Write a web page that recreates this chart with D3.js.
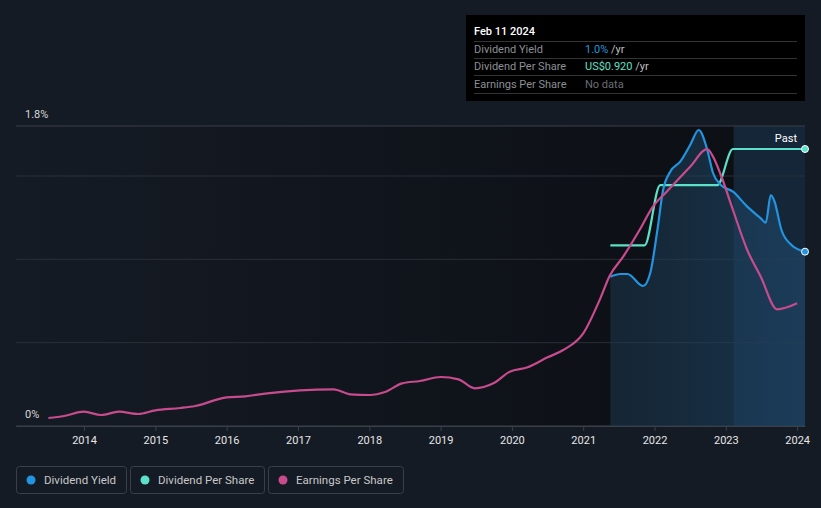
<!DOCTYPE html>
<html>
<head>
<meta charset="utf-8">
<script src="https://cdn.jsdelivr.net/npm/d3@7"></script>
<style>
  body { margin: 0; background: #151b25; font-family: Roboto, "Noto Sans", sans-serif; }
  svg { display: block; }
</style>
</head>
<body>
<div id="chart"></div>
<script>
// chart data (fractional years)
const epsYears = [2013.5, 2013.72, 2014.0, 2014.24, 2014.49, 2014.76, 2015.0, 2015.35, 2015.56, 2016.0, 2016.26, 2016.57, 2017.03, 2017.5, 2017.73, 2018.01, 2018.22, 2018.46, 2018.71, 2019.0, 2019.25, 2019.48, 2019.74, 2019.97, 2020.22, 2020.5, 2020.72, 2021.0, 2021.24, 2021.37, 2021.56, 2021.79, 2021.97, 2022.17, 2022.5, 2022.74, 2022.82, 2022.93, 2023.1, 2023.3, 2023.49, 2023.72, 2024.0];
const epsValues = [0.048, 0.06, 0.086, 0.066, 0.086, 0.072, 0.094, 0.108, 0.12, 0.172, 0.178, 0.196, 0.214, 0.22, 0.19, 0.186, 0.204, 0.256, 0.27, 0.294, 0.28, 0.226, 0.256, 0.326, 0.352, 0.412, 0.456, 0.556, 0.766, 0.9, 1.016, 1.176, 1.312, 1.406, 1.556, 1.662, 1.616, 1.506, 1.296, 1.056, 0.896, 0.7, 0.736];

const yieldYears = [2021.38, 2021.52, 2021.62, 2021.84, 2021.94, 2022.04, 2022.12, 2022.22, 2022.36, 2022.5, 2022.62, 2022.74, 2022.82, 2022.93, 2023.1, 2023.3, 2023.49, 2023.56, 2023.63, 2023.68, 2023.78, 2023.92, 2024.11];
const yieldValues = [0.896, 0.912, 0.912, 0.84, 0.918, 1.176, 1.416, 1.526, 1.586, 1.686, 1.776, 1.656, 1.518, 1.446, 1.406, 1.316, 1.246, 1.22, 1.386, 1.35, 1.176, 1.086, 1.046];

const dpsYears = [2021.38, 2021.86, 2022.08, 2022.88, 2023.1, 2024.11];
const dpsValues = [0.60, 0.60, 0.80, 0.80, 0.92, 0.92];

const xTicks = [2014, 2015, 2016, 2017, 2018, 2019, 2020, 2021, 2022, 2023, 2024];
const yGrid = [0, 0.5, 1.0, 1.5, 1.8];
const yLabels = [0, 1.8];

const legendNames = ["Dividend Yield", "Dividend Per Share", "Earnings Per Share"];
const colors = ["#2394df", "#5ce0c8", "#c84b8e"];

const tipRows = [
  { label: "Dividend Yield", value: "1.0%", unit: " /yr", color: "#2394df" },
  { label: "Dividend Per Share", value: "US$0.920", unit: " /yr", color: "#5ce0c8" },
  { label: "Earnings Per Share", value: "No data", unit: "", color: "#6b6e74" }
];

const width = 821, height = 508;
const plotLeft = 16, plotRight = 805, plotTop = 126, plotBottom = 426;
const pastStart = 2023.11, lastDate = 2024.11;

const svg = d3.select("#chart").append("svg")
  .attr("width", width).attr("height", height);

const x = d3.scaleLinear().domain([2013.046, 2024.11]).range([plotLeft, plotRight]);
const y = d3.scaleLinear().domain([0, 1.8]).range([plotBottom, plotTop]);
// dividend per share has its own axis
const yDps = d3.scaleLinear().domain([0, 0.92]).range([plotBottom, 149]);
const yEps = y;

const defs = svg.append("defs");
const bgGrad = defs.append("linearGradient").attr("id", "bgGrad");
bgGrad.append("stop").attr("offset", "0%").attr("stop-color", "#151b25");
bgGrad.append("stop").attr("offset", "100%").attr("stop-color", "#0c0f14");

const areaGrad = defs.append("linearGradient").attr("id", "areaGrad")
  .attr("x1", 0).attr("x2", 1).attr("y1", 0).attr("y2", 0);
areaGrad.append("stop").attr("offset", "0%").attr("stop-color", "#1d3a52").attr("stop-opacity", 0.5);
areaGrad.append("stop").attr("offset", "100%").attr("stop-color", "#1e4566").attr("stop-opacity", 0.7);

// plot background
svg.append("rect")
  .attr("x", plotLeft).attr("y", plotTop)
  .attr("width", x(pastStart) - plotLeft).attr("height", plotBottom - plotTop)
  .attr("fill", "url(#bgGrad)");

// past region
svg.append("rect")
  .attr("x", x(pastStart)).attr("y", plotTop)
  .attr("width", plotRight - x(pastStart)).attr("height", plotBottom - plotTop)
  .attr("fill", "#15304a").attr("opacity", 0.55);

// gridlines
svg.append("g").selectAll("line")
  .data(yGrid)
  .join("line")
  .attr("x1", plotLeft).attr("x2", plotRight)
  .attr("y1", d => y(d)).attr("y2", d => y(d))
  .attr("stroke", d => (d === 1.8 || d === 0) ? "#3a3f48" : "#2a2f38")
  .attr("stroke-width", 1);

// area under dividend yield
const yieldData = yieldYears.map((t, i) => [t, yieldValues[i]]);
svg.append("path")
  .datum(yieldData)
  .attr("fill", "url(#areaGrad)")
  .attr("d", d3.area().curve(d3.curveMonotoneX)
    .x(d => x(d[0])).y0(plotBottom).y1(d => y(d[1])));

// x axis
const xAxis = svg.append("g")
  .attr("transform", `translate(0,${plotBottom})`)
  .call(d3.axisBottom(x).tickValues(xTicks).tickFormat(d3.format("d")).tickSize(5).tickSizeOuter(0));
xAxis.select(".domain").attr("stroke", "#3a3f48");
xAxis.selectAll(".tick line").attr("stroke", "#3a3f48");
xAxis.selectAll(".tick text")
  .attr("fill", "#e6e6e6").attr("font-size", 11).attr("dy", "0.95em")
  .attr("font-family", "Roboto, sans-serif");

// y labels
svg.append("g").selectAll("text")
  .data(yLabels)
  .join("text")
  .attr("x", 25).attr("y", d => y(d) - 8)
  .attr("fill", "#d8d8d8").attr("font-size", 11)
  .text(d => d + "%");

// lines
const line = (scale) => d3.line().curve(d3.curveMonotoneX)
  .x(d => x(d[0])).y(d => scale(d[1]));

const epsData = epsYears.map((t, i) => [t, epsValues[i]]);
const dpsData = dpsYears.map((t, i) => [t, dpsValues[i]]);

svg.append("path").datum(dpsData)
  .attr("fill", "none").attr("stroke", colors[1]).attr("stroke-width", 2.2)
  .attr("d", line(yDps));

svg.append("path").datum(yieldData)
  .attr("fill", "none").attr("stroke", colors[0]).attr("stroke-width", 2.2)
  .attr("d", line(y));

svg.append("path").datum(epsData)
  .attr("fill", "none").attr("stroke", colors[2]).attr("stroke-width", 2.2)
  .attr("d", line(yEps));

// end dots
svg.append("circle")
  .attr("cx", x(lastDate)).attr("cy", yDps(dpsValues[dpsValues.length - 1])).attr("r", 3.5)
  .attr("fill", colors[1]).attr("stroke", "#ffffff").attr("stroke-width", 1);
svg.append("circle")
  .attr("cx", x(lastDate)).attr("cy", y(yieldValues[yieldValues.length - 1])).attr("r", 3.5)
  .attr("fill", colors[0]).attr("stroke", "#ffffff").attr("stroke-width", 1);

svg.append("text")
  .attr("x", 797).attr("y", 142).attr("text-anchor", "end")
  .attr("fill", "#ffffff").attr("font-size", 11)
  .text("Past");

// tooltip box
const tip = svg.append("g");
tip.append("rect")
  .attr("x", 466).attr("y", 15).attr("width", 339).attr("height", 86)
  .attr("fill", "#000000");
tip.append("text")
  .attr("x", 474).attr("y", 35)
  .attr("fill", "#ffffff").attr("font-size", 11).attr("font-weight", 500)
  .text("Feb 11 2024");

const rowY = [53, 70, 88];
const sepY = [41, 58, 75, 93];
tip.selectAll("line")
  .data(sepY)
  .join("line")
  .attr("x1", 474).attr("x2", 797)
  .attr("y1", d => d + 0.5).attr("y2", d => d + 0.5)
  .attr("stroke", "#333333");

tipRows.forEach((r, i) => {
  tip.append("text")
    .attr("x", 474).attr("y", rowY[i])
    .attr("fill", "#8c8f94").attr("font-size", 11)
    .text(r.label);
  const v = tip.append("text")
    .attr("x", 585).attr("y", rowY[i]).attr("font-size", 11);
  v.append("tspan").attr("fill", r.color).text(r.value);
  v.append("tspan").attr("fill", "#bfbfbf").text(r.unit);
});

// legend
const legendX = [16, 130, 268];
const legendW = [110, 134, 135];
const legend = svg.append("g");
legendNames.forEach((name, i) => {
  const g = legend.append("g").attr("transform", `translate(${legendX[i]},466)`);
  g.append("rect")
    .attr("x", 0.5).attr("y", 0.5).attr("width", legendW[i]).attr("height", 27).attr("rx", 3)
    .attr("fill", "none").attr("stroke", "#3a3f4a");
  g.append("circle").attr("cx", 15).attr("cy", 14).attr("r", 4.5).attr("fill", colors[i]);
  g.append("text")
    .attr("x", 28).attr("y", 18)
    .attr("fill", "#c8c8c8").attr("font-size", 11.5)
    .text(name);
});
</script>
</body>
</html>
